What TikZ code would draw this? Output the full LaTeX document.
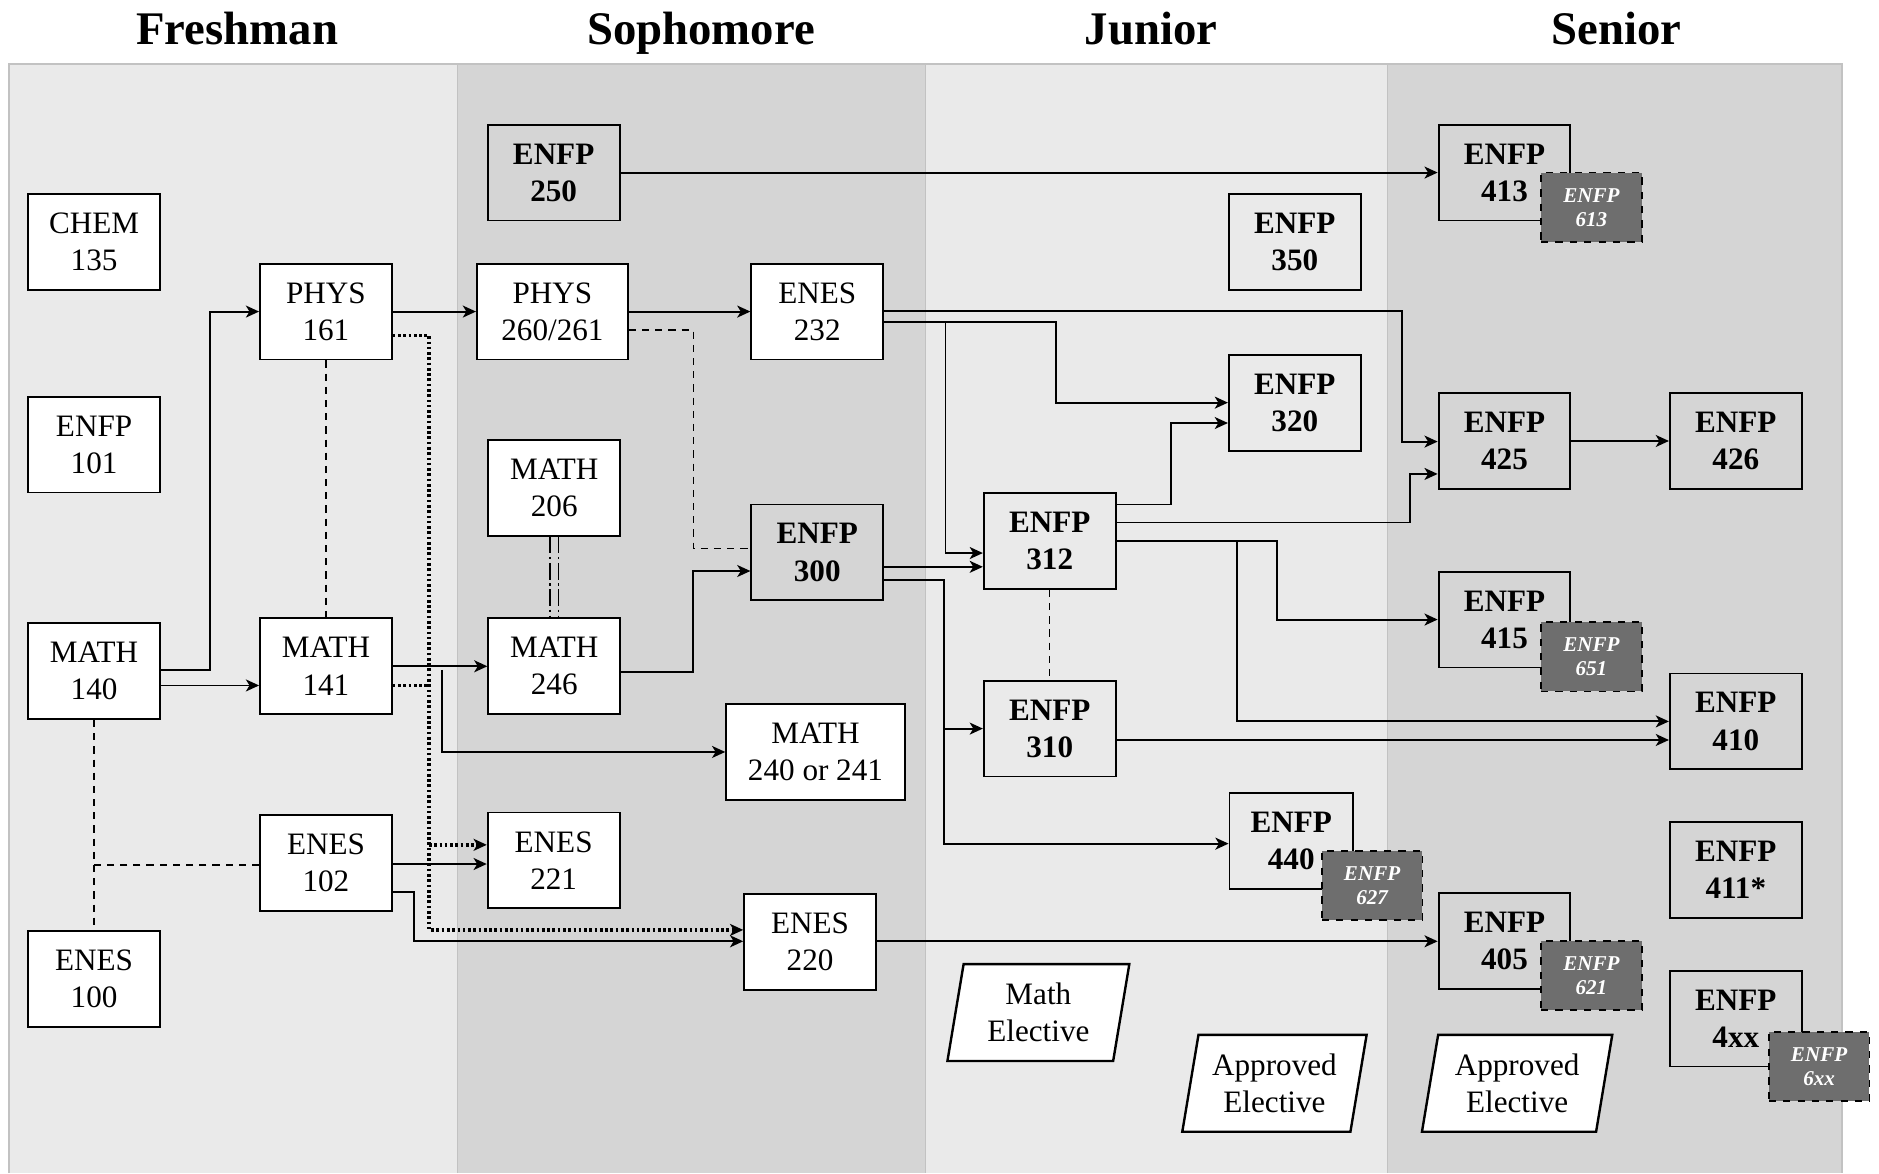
\documentclass[tikz,border=0pt]{standalone}
\usepackage{fontspec}
\setmainfont{Liberation Serif}
\usetikzlibrary{arrows.meta,calc}
\definecolor{lightp}{HTML}{EAEAEA}
\definecolor{darkp}{HTML}{D5D5D5}
\definecolor{subg}{HTML}{6E6E6E}
\definecolor{edgeg}{HTML}{C2C2C2}
\pgfdeclarelayer{bg}
\pgfsetlayers{bg,main}
\tikzset{
  box/.style={draw, line width=0.8pt, minimum width=55pt, minimum height=40pt, inner sep=0pt, align=center, font=\fontsize{13}{15.5}\selectfont},
  wbox/.style={box, fill=white},
  fbox/.style={box, font=\fontsize{13}{15.5}\selectfont\bfseries},
  subbox/.style={draw, dashed, line width=0.7pt, fill=subg, minimum width=42pt, minimum height=29pt, inner sep=0pt, align=center, text=white, font=\fontsize{8.8}{10}\selectfont\bfseries\itshape},
  title/.style={anchor=base, font=\fontsize{19.5}{22}\selectfont\bfseries},
  paratext/.style={minimum height=40pt, inner sep=0pt, align=center, font=\fontsize{13}{15.5}\selectfont},
  parab/.style={draw, fill=white, line width=1pt},
  arr/.style={line width=0.8pt, -{Stealth[length=5.5pt,width=5pt,inset=1.5pt]}},
  dsh/.style={line width=0.6pt, dash pattern=on 3pt off 2.5pt},
  dotl/.style={line width=1.5pt, dash pattern=on 1.1pt off 1.1pt},
  dotarr/.style={dotl, -{Stealth[length=5.5pt,width=5pt,inset=1.5pt]}},
  dbl/.style={line width=0.6pt, dash pattern=on 7pt off 1.5pt on 1pt off 1.5pt},
}
\begin{document}
\begin{tikzpicture}[x=0.5pt,y=-0.5pt]
\useasboundingbox (0,0) rectangle (1568,979);
\begin{pgfonlayer}{bg}
\fill[white] (0,0) rectangle (1568,979);
\fill[lightp] (7.5,53.5) rectangle (381.5,979);
\fill[darkp] (381.5,53.5) rectangle (772.5,979);
\fill[lightp] (772.5,53.5) rectangle (1157.5,979);
\fill[darkp] (1157.5,53.5) rectangle (1537,979);
\draw[edgeg, line width=0.7pt] (7.5,979) -- (7.5,53.5) -- (1537,53.5) -- (1537,979);
\draw[edgeg, line width=0.4pt] (381.5,53.5) -- (381.5,979);
\draw[edgeg, line width=0.4pt] (772.5,53.5) -- (772.5,979);
\draw[edgeg, line width=0.4pt] (1157.5,53.5) -- (1157.5,979);
\end{pgfonlayer}
% titles
\node[title] (tfr) at (198,37) {Freshman};
\node[title] (tso) at (585,37) {Sophomore};
\node[title] (tju) at (960.5,37) {Junior};
\node[title] (tse) at (1349,37) {Senior};

% Freshman
\node[wbox] (chem) at (78.5,202) {CHEM\\135};
\node[wbox] (f101) at (78.5,371) {ENFP\\101};
\node[wbox] (m140) at (78.5,560) {MATH\\140};
\node[wbox] (e100) at (78.5,817) {ENES\\100};
\node[wbox] (p161) at (272,260) {PHYS\\161};
\node[wbox] (m141) at (272,556) {MATH\\141};
\node[wbox] (e102) at (272,720) {ENES\\102};
% Sophomore
\node[fbox] (f250) at (462,144) {ENFP\\250};
\node[wbox, minimum width=63pt] (p260) at (461,260) {PHYS\\260/261};
\node[wbox] (e232) at (682,260) {ENES\\232};
\node[wbox] (m206) at (462.5,407) {MATH\\206};
\node[fbox] (f300) at (682,461) {ENFP\\300};
\node[wbox] (m246) at (462.5,556) {MATH\\246};
\node[wbox, minimum width=74.5pt] (m240) at (680.5,627.5) {MATH\\240 or 241};
\node[wbox] (e221) at (462,718) {ENES\\221};
\node[wbox] (e220) at (676,786) {ENES\\220};
% Junior
\node[fbox] (f350) at (1080.5,202) {ENFP\\350};
\node[fbox] (f320) at (1080.5,336) {ENFP\\320};
\node[fbox] (f312) at (876,451.5) {ENFP\\312};
\node[fbox] (f310) at (876,608) {ENFP\\310};
\node[fbox, minimum width=51.5pt] (f440) at (1077.5,702) {ENFP\\440};
\node[subbox] (s627) at (1145,739) {ENFP\\627};
\node[paratext, minimum width=75.5pt] (mel) at (866.5,845) {Math\\Elective};
\node[paratext, minimum width=76.5pt] (aej) at (1063.5,904) {Approved\\Elective};
% Senior
\node[fbox] (f413) at (1255.5,144) {ENFP\\413};
\node[subbox] (s613) at (1328,173) {ENFP\\613};
\node[fbox] (f425) at (1255.5,368) {ENFP\\425};
\node[fbox] (f426) at (1448.5,368) {ENFP\\426};
\node[fbox] (f415) at (1255.5,517) {ENFP\\415};
\node[subbox] (s651) at (1328,548) {ENFP\\651};
\node[fbox] (f410) at (1448.5,602) {ENFP\\410};
\node[fbox] (f411) at (1448.5,726) {ENFP\\411*};
\node[fbox] (f405) at (1255.5,785) {ENFP\\405};
\node[subbox] (s621) at (1328,814) {ENFP\\621};
\node[fbox] (f4xx) at (1448.5,850) {ENFP\\4xx};
\node[subbox] (s6xx) at (1518,890) {ENFP\\6xx};
\node[paratext, minimum width=79pt] (aes) at (1266,904) {Approved\\Elective};

% parallelograms (behind their text)
\begin{pgfonlayer}{bg}
\foreach \n in {mel,aej,aes}{
  \draw[parab] (\n.south west) -- ($(\n.north west)+(13.5,0)$) -- (\n.north east) -- ($(\n.south east)+(-13.5,0)$) -- cycle;
}
\end{pgfonlayer}

% junction coordinates
\coordinate (jd) at (358,705);
\coordinate (jm) at (369,559);
\coordinate (ja) at (789,269);
\coordinate (jb) at (788,608);
\coordinate (jc) at (1032,451.5);

% connectors
\draw[arr] (f250.east) -- (f413.west);
\draw[arr] (m140.east |- 0,559) -| (175,260) -- (p161.west);
\draw[arr] (m140.east |- 0,572) -- (m141.west |- 0,572);
\draw[arr] (p161.east) -- (p260.west);
\draw[arr] (p260.east) -- (e232.west);
\draw[dsh] (p161.south) -- (m141.north);
\draw[dsh] (m140.south) -- (e100.north);
\draw[dsh] (e102.west |- 0,722) -- (m140.south |- 0,722);
% dotted
\draw[dotarr] (p161.east |- 0,280) -| (358,776) -- (e220.west |- 0,776);
\draw[dotarr] (jd) -- (e221.west |- 0,705);
\draw[dotl] (m141.east |- 0,572) -- (358,572);
% math
\draw[arr] (m141.east) -- (m246.west);
\draw[arr] (jm) |- (m240.west);
\draw[dbl] ($(m206.south)+(-3.5,0)$) -- ($(m246.north)+(-3.5,0)$);
\draw[dbl] ($(m206.south)+(3.5,0)$) -- ($(m246.north)+(3.5,0)$);
\draw[arr] (m246.east |- 0,561) -| (578.5,476.5) -- (f300.west |- 0,476.5);
\draw[dsh] (p260.east |- 0,275.5) -| (578.5,457.5) -- (f300.west |- 0,457.5);
% enes
\draw[arr] (e102.east |- 0,721) -- (e221.west |- 0,721);
\draw[arr] (e102.east |- 0,744) -| (345.5,785.5) -- (e220.west |- 0,785.5);
\draw[arr] (e220.east |- 0,785.5) -- (f405.west |- 0,785.5);
\draw[arr] (e232.east |- 0,259.5) -| (1170,368.5) -- (f425.west |- 0,368.5);
\draw[arr] (e232.east |- 0,269) -| (881,336) -- (f320.west |- 0,336);
\draw[arr] (ja) |- (f312.west |- 0,461.5);
% 300
\draw[arr] (f300.east |- 0,473) -- (f312.west |- 0,473);
\draw[arr] (f300.east |- 0,484) -| (788,704) -- (f440.west |- 0,704);
\draw[arr] (jb) -- (f310.west);
% 312
\draw[arr] (f312.east |- 0,421) -| (977.5,353) -- (f320.west |- 0,353);
\draw[arr] (f312.east |- 0,436) -| (1176.5,395.5) -- (f425.west |- 0,395.5);
\draw[arr] (f312.east) -| (1066,517) -- (f415.west);
\draw[arr] (jc) |- (f410.west |- 0,602);
\draw[arr] (f310.east |- 0,617.5) -- (f410.west |- 0,617.5);
\draw[arr] (f425.east) -- (f426.west);
\draw[dsh] (f312.south) -- (f310.north);
\end{tikzpicture}
\end{document}
